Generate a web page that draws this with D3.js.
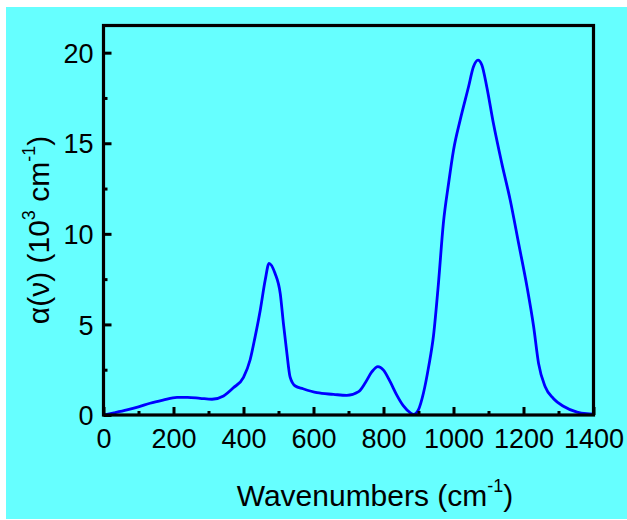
<!DOCTYPE html>
<html>
<head>
<meta charset="utf-8">
<script src="https://cdn.jsdelivr.net/npm/d3@7"></script>
<style>
  html, body { margin: 0; padding: 0; background: #ffffff; }
  svg { display: block; }
  text { font-family: "Liberation Sans", Arial, sans-serif; fill: #000; }
</style>
</head>
<body>
<svg id="chart" width="627" height="520"></svg>
<script>
// ---- data ----
const wavenumbers = [0, 30, 67, 100, 133, 170, 210, 240, 276, 310, 343, 371, 400, 419, 433, 448, 462, 473, 490, 505, 514, 524, 533, 548, 570, 610, 657, 695, 729, 748, 767, 784, 800, 819, 838, 857, 876, 886, 900, 914, 929, 943, 957, 971, 986, 1000, 1019, 1043, 1057, 1070, 1081, 1095, 1114, 1138, 1162, 1186, 1210, 1229, 1243, 1262, 1286, 1314, 1353, 1380, 1400];
const alpha = [0, 0.12, 0.28, 0.45, 0.65, 0.82, 0.97, 0.97, 0.92, 0.87, 1.05, 1.5, 2.08, 3.05, 4.3, 5.8, 7.45, 8.37, 7.82, 6.7, 5.06, 3.4, 2.11, 1.6, 1.45, 1.23, 1.14, 1.08, 1.29, 1.78, 2.39, 2.67, 2.48, 1.84, 1.1, 0.5, 0.13, 0.03, 0.3, 1.2, 2.67, 4.4, 7.27, 10.58, 12.79, 14.62, 16.28, 18.12, 19.22, 19.59, 19.32, 18.12, 16.1, 13.89, 11.87, 9.48, 7.08, 4.87, 2.85, 1.56, 0.9, 0.48, 0.16, 0.07, 0.05];
const xTicks = [0, 200, 400, 600, 800, 1000, 1200, 1400];
const xMinorTicks = [100, 300, 500, 700, 900, 1100, 1300];
const yTicks = [0, 5, 10, 15, 20];
const yMinorTicks = [2.5, 7.5, 12.5, 17.5];
const xTitle = "Wavenumbers (cm";
const yTitleMain = "\u03B1(\u03BD) (10";
const yTitleUnit = " cm";

// ---- layout ----
const svg = d3.select("#chart");
const plotLeft = 103.5, plotRight = 593.5, plotTop = 25.5, plotBottom = 415;

svg.append("rect").attr("x", 6).attr("y", 7).attr("width", 621).attr("height", 512).attr("fill", "#66FFFF");

const x = d3.scaleLinear().domain([0, 1400]).range([plotLeft, plotRight]);
const y = d3.scaleLinear().domain([0, 21.5]).range([plotBottom, plotTop]);

// line
const line = d3.line().x((d, i) => x(wavenumbers[i])).y(d => y(d)).curve(d3.curveMonotoneX);
svg.append("path").datum(alpha).attr("d", line)
  .attr("fill", "none").attr("stroke", "#0000FF").attr("stroke-width", 2.8)
  .attr("stroke-linejoin", "round");

// axes (ticks inward)
const xAxis = d3.axisBottom(x).tickValues(xTicks).tickSize(-8).tickPadding(0).tickFormat(d3.format("d"));
const gx = svg.append("g").attr("transform", `translate(0,${plotBottom})`).call(xAxis);
gx.select(".domain").remove();
gx.selectAll(".tick line").attr("stroke", "#000").attr("stroke-width", 3);
gx.selectAll(".tick text").attr("font-size", 27).attr("y", 33).attr("dy", 0)
  .attr("font-family", "Liberation Sans, Arial, sans-serif");

const xAxisMinor = d3.axisBottom(x).tickValues(xMinorTicks).tickSize(-4).tickFormat("");
const gxm = svg.append("g").attr("transform", `translate(0,${plotBottom})`).call(xAxisMinor);
gxm.select(".domain").remove();
gxm.selectAll(".tick line").attr("stroke", "#000").attr("stroke-width", 3);

const yAxis = d3.axisLeft(y).tickValues(yTicks).tickSize(-8).tickPadding(10).tickFormat(d3.format("d"));
const gy = svg.append("g").attr("transform", `translate(${plotLeft},0)`).call(yAxis);
gy.select(".domain").remove();
gy.selectAll(".tick line").attr("stroke", "#000").attr("stroke-width", 3);
gy.selectAll(".tick text").attr("font-size", 27).attr("x", -10).attr("dy", "0.36em")
  .attr("font-family", "Liberation Sans, Arial, sans-serif");

const yAxisMinor = d3.axisLeft(y).tickValues(yMinorTicks).tickSize(-4).tickFormat("");
const gym = svg.append("g").attr("transform", `translate(${plotLeft},0)`).call(yAxisMinor);
gym.select(".domain").remove();
gym.selectAll(".tick line").attr("stroke", "#000").attr("stroke-width", 3);

// frame
svg.append("rect").attr("x", plotLeft).attr("y", plotTop).attr("width", plotRight - plotLeft).attr("height", plotBottom - plotTop)
  .attr("fill", "none").attr("stroke", "#000").attr("stroke-width", 3.2);

// x title
const xt = svg.append("text").attr("x", 375).attr("y", 506).attr("text-anchor", "middle").attr("font-size", 30);
xt.append("tspan").text(xTitle);
xt.append("tspan").attr("font-size", 18).attr("dy", -14).text("-1");
xt.append("tspan").attr("dy", 14).text(")");

// y title
const yt = svg.append("text").attr("transform", "translate(49,230) rotate(-90)")
  .attr("text-anchor", "middle").attr("font-size", 30);
yt.append("tspan").text(yTitleMain);
yt.append("tspan").attr("font-size", 18).attr("dy", -14).text("3");
yt.append("tspan").attr("dy", 14).text(yTitleUnit);
yt.append("tspan").attr("font-size", 18).attr("dy", -14).text("-1");
yt.append("tspan").attr("dy", 14).text(")");
</script>
</body>
</html>
